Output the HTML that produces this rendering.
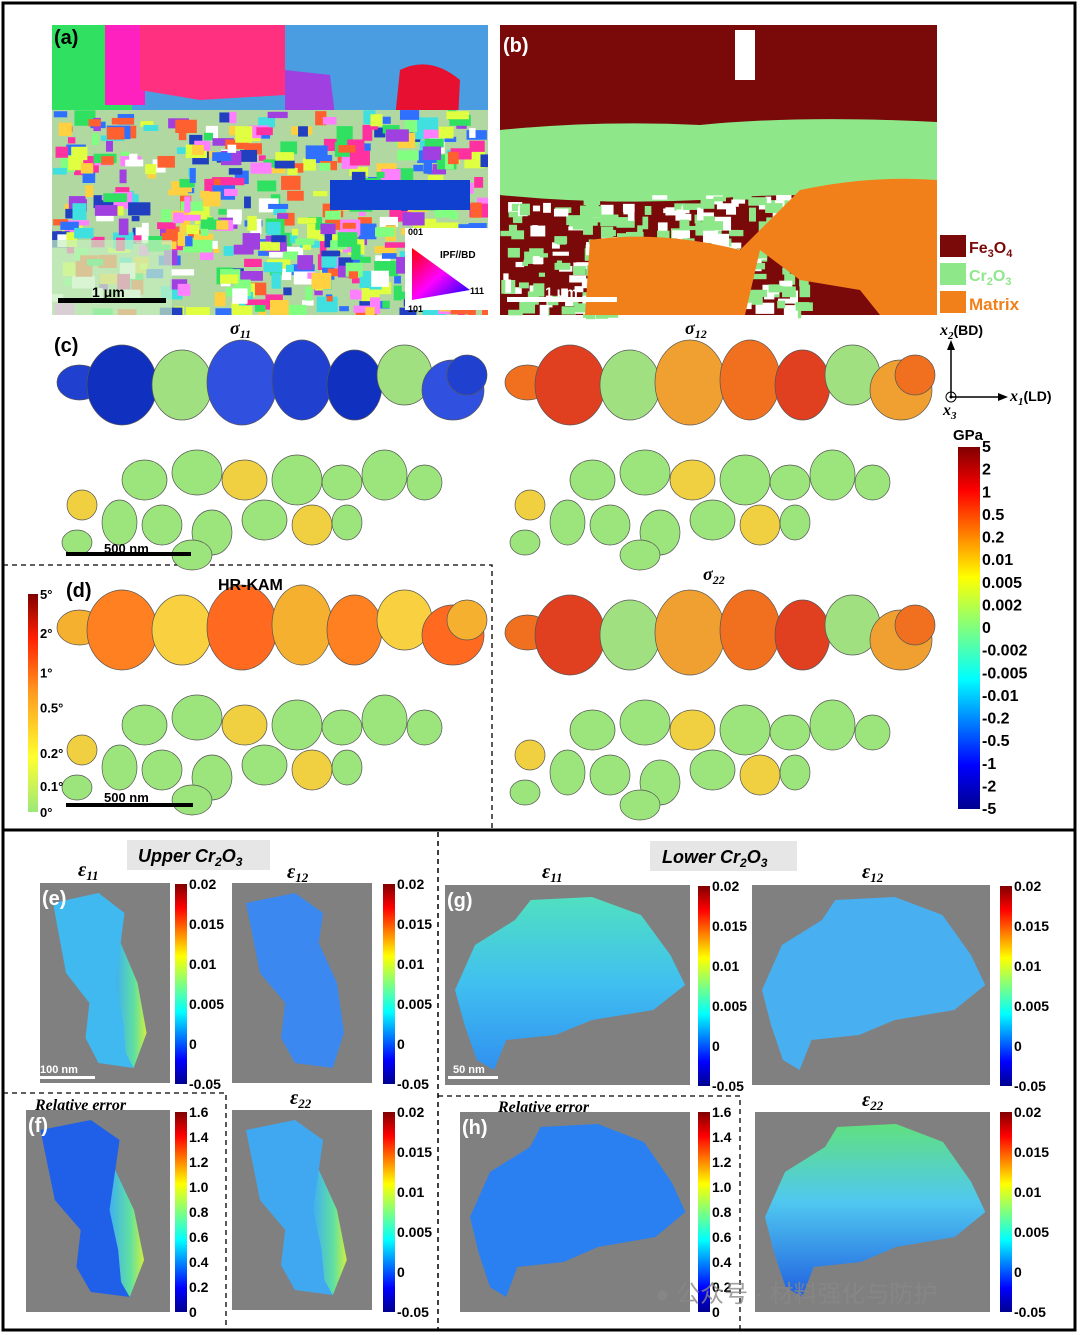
<!DOCTYPE html>
<html><head><meta charset="utf-8">
<style>
html,body{margin:0;padding:0;background:#fff;}
svg{display:block;font-family:"Liberation Sans","Noto Sans CJK SC",sans-serif;}
</style></head>
<body>
<svg id="fig" width="1080" height="1335" viewBox="0 0 1080 1335">
<defs>
<linearGradient id="jet" x1="0" y1="1" x2="0" y2="0">
<stop offset="0" stop-color="#00008f"/><stop offset="0.12" stop-color="#0000ff"/><stop offset="0.36" stop-color="#00ffff"/><stop offset="0.5" stop-color="#7fff7f"/><stop offset="0.64" stop-color="#ffff00"/><stop offset="0.88" stop-color="#ff0000"/><stop offset="1" stop-color="#800000"/>
</linearGradient>
<linearGradient id="kam" x1="0" y1="1" x2="0" y2="0">
<stop offset="0" stop-color="#9be87a"/><stop offset="0.25" stop-color="#ffff30"/><stop offset="0.55" stop-color="#ff9a20"/><stop offset="0.8" stop-color="#ff2000"/><stop offset="1" stop-color="#800000"/>
</linearGradient>
<linearGradient id="ipf" x1="0" y1="0" x2="1" y2="1">
<stop offset="0" stop-color="#ff0000"/><stop offset="0.5" stop-color="#ff00ff"/><stop offset="1" stop-color="#0000ff"/>
</linearGradient>
<linearGradient id="strip" x1="0" y1="0" x2="1" y2="0">
<stop offset="0" stop-color="#40b0f0"/><stop offset="0.6" stop-color="#60e0a0"/><stop offset="1" stop-color="#d0f040"/>
</linearGradient>
<linearGradient id="gfill" x1="0" y1="0" x2="0" y2="1">
<stop offset="0" stop-color="#50e0c0"/><stop offset="0.5" stop-color="#40c0f0"/><stop offset="1" stop-color="#3090f0"/>
</linearGradient>
<linearGradient id="h22fill" x1="0" y1="0" x2="0" y2="1">
<stop offset="0" stop-color="#60e080"/><stop offset="0.45" stop-color="#50c8f0"/><stop offset="1" stop-color="#2060e0"/>
</linearGradient>
<clipPath id="clipc1"><rect x="52" y="340" width="436" height="225"/></clipPath>
</defs>

<rect x="3" y="3" width="1072" height="1327" fill="none" stroke="#000" stroke-width="3"/>
<line x1="3" y1="830" x2="1075" y2="830" stroke="#000" stroke-width="3"/>
<line x1="438" y1="832" x2="438" y2="1330" stroke="#000" stroke-width="1.5" stroke-dasharray="5,4"/>
<path d="M3 565 H492 V830" fill="none" stroke="#000" stroke-width="1.3" stroke-dasharray="5,4"/>
<path d="M3 1093 H226 V1330" fill="none" stroke="#000" stroke-width="1.3" stroke-dasharray="5,4"/>
<path d="M438 1096 H740 V1330" fill="none" stroke="#000" stroke-width="1.3" stroke-dasharray="5,4"/>

<g>
<rect x="52" y="25" width="436" height="290" fill="#4a9de0"/>
<rect x="52" y="25" width="80" height="100" fill="#30e060"/>
<rect x="105" y="25" width="40" height="80" fill="#ff20c0"/>
<path d="M140 25 H285 V95 L200 100 L140 90Z" fill="#ff3080"/>
<path d="M285 70 L330 75 L335 115 L285 118Z" fill="#a040e0"/>
<path d="M400 70 Q430 55 460 80 L458 120 L395 118Z" fill="#e81030"/>
<rect x="52" y="110" width="436" height="205" fill="#b0d8a0"/>
<g id="amosaic"></g>
<rect x="330" y="180" width="140" height="30" fill="#1040d0"/>
<rect x="52" y="240" width="120" height="75" fill="#c8f0c0" opacity="0.7"/>
<rect x="405" y="228" width="83" height="82" fill="#fff"/>
<path d="M412 248 L412 300 L470 290Z" fill="url(#ipf)"/>
<text x="408" y="235" font-size="9" font-weight="bold">001</text>
<text x="440" y="258" font-size="10" font-weight="bold">IPF//BD</text>
<text x="470" y="294" font-size="9" font-weight="bold">111</text>
<text x="408" y="312" font-size="9" font-weight="bold">101</text>
<rect x="58" y="298" width="108" height="5" fill="#000"/>
<text x="92" y="297" font-size="14" font-weight="bold">1 μm</text>
<text x="54" y="44" font-size="20" font-weight="bold">(a)</text>
</g>

<g>
<rect x="500" y="25" width="437" height="290" fill="#7a0a0a"/>
<path d="M500 130 Q600 120 700 125 Q800 115 937 122 V200 Q800 190 700 200 Q600 205 500 195Z" fill="#8ee88a"/>
<g id="bmosaic"></g>
<path d="M585 315 L590 240 Q660 230 740 250 L800 190 Q870 175 937 180 V315 L880 315 L860 290 L800 280 L760 250 L745 315Z" fill="#f2801a"/>
<rect x="735" y="30" width="20" height="50" fill="#fff"/>
<rect x="507" y="297" width="110" height="5" fill="#fff"/>
<text x="545" y="297" font-size="14" font-weight="bold" fill="#fff">1 μm</text>
<text x="503" y="52" font-size="20" font-weight="bold" fill="#fff">(b)</text>
</g>
<g>
<rect x="940" y="235" width="26" height="22" fill="#7a0a0a"/><text x="969" y="253" font-size="16" font-weight="bold" fill="#7a0a0a">Fe<tspan font-size="11" dy="4">3</tspan><tspan dy="-4">O</tspan><tspan font-size="11" dy="4">4</tspan></text>
<rect x="940" y="263" width="26" height="22" fill="#8ee88a"/><text x="969" y="281" font-size="16" font-weight="bold" fill="#8ee88a">Cr<tspan font-size="11" dy="4">2</tspan><tspan dy="-4">O</tspan><tspan font-size="11" dy="4">3</tspan></text>
<rect x="940" y="291" width="26" height="22" fill="#f2801a"/><text x="969" y="310" font-size="17" font-weight="bold" fill="#f2801a">Matrix</text>
</g>

<g id="maps"></g>
<text x="230" y="334" font-size="18" font-style="italic" font-weight="bold" font-family="Liberation Serif">σ<tspan font-size="12" dy="4">11</tspan></text>
<text x="685" y="334" font-size="18" font-style="italic" font-weight="bold" font-family="Liberation Serif">σ<tspan font-size="12" dy="4">12</tspan></text>
<text x="703" y="580" font-size="18" font-style="italic" font-weight="bold" font-family="Liberation Serif">σ<tspan font-size="12" dy="4">22</tspan></text>
<text x="54" y="352" font-size="20" font-weight="bold">(c)</text>
<text x="66" y="597" font-size="20" font-weight="bold">(d)</text>
<text x="218" y="590" font-size="16" font-weight="bold">HR-KAM</text>
<rect x="66" y="552" width="125" height="4" fill="#000"/>
<text x="104" y="553" font-size="13" font-weight="bold">500 nm</text>
<rect x="66" y="803" width="127" height="4" fill="#000"/>
<text x="104" y="802" font-size="13" font-weight="bold">500 nm</text>

<g>
<line x1="951" y1="397" x2="951" y2="348" stroke="#000" stroke-width="1.5"/><path d="M947 350 L951 340 L955 350Z"/>
<line x1="951" y1="397" x2="1000" y2="397" stroke="#000" stroke-width="1.5"/><path d="M998 393 L1008 397 L998 401Z"/>
<circle cx="951" cy="397" r="5" fill="none" stroke="#000"/><circle cx="951" cy="397" r="1.5"/>
<text x="940" y="335" font-size="16" font-style="italic" font-family="Liberation Serif" font-weight="bold">x<tspan font-size="11" dy="4">2</tspan><tspan dy="-4" font-style="normal" font-family="Liberation Sans" font-size="14">(BD)</tspan></text>
<text x="1010" y="401" font-size="16" font-style="italic" font-family="Liberation Serif" font-weight="bold">x<tspan font-size="11" dy="4">1</tspan><tspan dy="-4" font-style="normal" font-family="Liberation Sans" font-size="14">(LD)</tspan></text>
<text x="943" y="415" font-size="16" font-style="italic" font-family="Liberation Serif" font-weight="bold">x<tspan font-size="11" dy="4">3</tspan></text>
</g>
<text x="953" y="440" font-size="15" font-weight="bold">GPa</text>

<rect x="127" y="840" width="143" height="30" fill="#e6e6e6"/>
<text x="138" y="862" font-size="18" font-weight="bold" font-style="italic">Upper Cr<tspan font-size="12" dy="4">2</tspan><tspan dy="-4">O</tspan><tspan font-size="12" dy="4">3</tspan></text>
<rect x="650" y="841" width="147" height="30" fill="#e6e6e6"/>
<text x="662" y="863" font-size="18" font-weight="bold" font-style="italic">Lower Cr<tspan font-size="12" dy="4">2</tspan><tspan dy="-4">O</tspan><tspan font-size="12" dy="4">3</tspan></text>
<g id="strainpanels"></g>
<g font-family="Liberation Serif" font-style="italic" font-weight="bold" font-size="20">
<text x="78" y="876">ε<tspan font-size="13" dy="4">11</tspan></text>
<text x="287" y="878">ε<tspan font-size="13" dy="4">12</tspan></text>
<text x="542" y="878">ε<tspan font-size="13" dy="4">11</tspan></text>
<text x="862" y="878">ε<tspan font-size="13" dy="4">12</tspan></text>
<text x="290" y="1104">ε<tspan font-size="13" dy="4">22</tspan></text>
<text x="862" y="1106">ε<tspan font-size="13" dy="4">22</tspan></text>
</g>
<text x="35" y="1110" font-size="16" font-family="Liberation Serif" font-style="italic" font-weight="bold">Relative error</text>
<text x="498" y="1112" font-size="16" font-family="Liberation Serif" font-style="italic" font-weight="bold">Relative error</text>
<g id="cbars"></g>
<text x="655" y="1302" font-size="24" fill="#888" opacity="0.8">● 公众号 · 材料强化与防护</text>
</svg>
<script>
// colorbar tick labels
const stressTicks = ["5","2","1","0.5","0.2","0.01","0.005","0.002","0","-0.002","-0.005","-0.01","-0.2","-0.5","-1","-2","-5"];
const kamTicks = ["5°","2°","1°","0.5°","0.2°","0.1°","0°"];
const kamPos = [0,0.18,0.36,0.52,0.73,0.88,1];
const strainTicks = ["0.02","0.015","0.01","0.005","0","-0.05"];
const strainPos = [0,0.2,0.4,0.6,0.8,1];
const errTicks = ["1.6","1.4","1.2","1.0","0.8","0.6","0.4","0.2","0"];

const NS="http://www.w3.org/2000/svg";
function mk(tag,attrs,parent){const e=document.createElementNS(NS,tag);for(const k in attrs)e.setAttribute(k,attrs[k]);parent.appendChild(e);return e;}

let seed=7;function rnd(){seed=(seed*16807)%2147483647;return seed/2147483647;}
const pal=["#30e060","#ff30a0","#3070ff","#ffd040","#a040e0","#40e0e0","#ff6030","#80ff80","#ffffff","#2040c0","#e0ff40","#ff80ff"];
const am=document.getElementById('amosaic');
for(let i=0;i<520;i++){const x=52+rnd()*430,y=110+rnd()*200,w=6+rnd()*18,h=5+rnd()*12;
 mk('rect',{x:x,y:y,width:Math.min(w,488-x),height:Math.min(h,315-y),fill:pal[Math.floor(rnd()*pal.length)]},am);}
const bm=document.getElementById('bmosaic');
for(let i=0;i<300;i++){const x=500+rnd()*300,y=195+rnd()*115,w=5+rnd()*14,h=4+rnd()*10;
 mk('rect',{x:x,y:y,width:w,height:h,fill:rnd()<0.6?"#8ee88a":"#ffffff"},bm);}

function grains(g,ox,oy,mode){
 const band=[[5,25,45,35],[35,5,70,80],[100,10,60,70],[155,0,70,85],[220,0,60,80],[275,10,55,70],[325,5,55,60],[370,20,62,60],[395,15,40,40]];
 const low=[[70,120,45,40],[120,110,50,45],[170,120,45,40],[220,115,50,50],[270,125,40,35],[310,110,45,50],[355,125,35,35],[15,150,30,30],[50,160,35,45],[90,165,40,40],[140,170,40,45],[190,160,45,40],[240,165,40,40],[280,165,30,35],[120,200,40,30],[10,190,30,25]];
 const fills=mode==="kam"?["#f5b030","#ff8020","#f8d040","#ff6a20"]:mode==="s11"?["#2040d0","#1030c0","#a0e080","#3050e0"]:["#f07020","#e04020","#a0e080","#f0a030"];
 band.forEach((b,i)=>{mk('ellipse',{cx:ox+b[0]+b[2]/2,cy:oy+b[1]+b[3]/2,rx:b[2]/2,ry:b[3]/2,fill:fills[i%4],stroke:"#555","stroke-width":0.7},g);});
 low.forEach((b,i)=>{mk('ellipse',{cx:ox+b[0]+b[2]/2,cy:oy+b[1]+b[3]/2,rx:b[2]/2,ry:b[3]/2,fill:i%5===2?"#f0d040":"#9ce47c",stroke:"#555","stroke-width":0.7},g);});
}
const maps=document.getElementById('maps');
[[52,340,"s11","sigma11-map"],[500,340,"s12","sigma12-map"],[52,585,"kam","hr-kam-map"],[500,590,"s12","sigma22-map"]].forEach(m=>{
 const g=mk('g',{},maps);
 
 
 grains(g,m[0],m[1],m[2]);
});

const sp=document.getElementById('strainpanels');
const panels=[[40,883,130,200,"e11","#40b8f0","(e)",1],[232,883,140,200,"e12","#3a88f0","",0],[26,1110,144,202,"f-error","#2060e8","(f)",1],[232,1110,140,200,"e22","#40a8f0","",1],
 [445,885,245,200,"g11","url(#gfill)","(g)",0],[752,885,238,200,"g12","#48b0f0","",0],[460,1112,230,200,"h-error","#2a80f0","(h)",0],[755,1112,235,200,"h22","url(#h22fill)","",0]];
panels.forEach(p=>{
 const g=mk('g',{},sp);
 
 
 mk('rect',{x:p[0],y:p[1],width:p[2],height:p[3],fill:"#808080"},g);
 const x=p[0],y=p[1],w=p[2],h=p[3];
 if(w<160){
  mk('path',{d:`M${x+w*0.1} ${y+20} L${x+w*0.45} ${y+10} L${x+w*0.65} ${y+30} L${x+w*0.62} ${y+60} L${x+w*0.75} ${y+100} L${x+w*0.8} ${y+150} L${x+w*0.72} ${y+h-15} L${x+w*0.45} ${y+h-20} L${x+w*0.35} ${y+h-45} L${x+w*0.38} ${y+120} L${x+w*0.2} ${y+90} L${x+w*0.15} ${y+55} Z`,fill:p[5]},g);
  if(p[7]) mk('path',{d:`M${x+w*0.62} ${y+60} L${x+w*0.75} ${y+100} L${x+w*0.82} ${y+150} L${x+w*0.72} ${y+h-15} L${x+w*0.66} ${y+h-30} L${x+w*0.64} ${y+140} L${x+w*0.58} ${y+100} Z`,fill:"url(#strip)"},g);
 } else {
  mk('path',{d:`M${x+10} ${y+105} L${x+30} ${y+60} L${x+70} ${y+35} L${x+w*0.35} ${y+15} L${x+w*0.6} ${y+12} L${x+w*0.8} ${y+30} L${x+w*0.92} ${y+70} L${x+w*0.98} ${y+100} L${x+w*0.85} ${y+125} L${x+w*0.6} ${y+135} L${x+w*0.45} ${y+150} L${x+w*0.25} ${y+155} L${x+w*0.2} ${y+185} L${x+w*0.13} ${y+175} L${x+w*0.08} ${y+140} Z`,fill:p[5]},g);
 }
 if(p[6]) mk('text',{x:x+2,y:y+22,"font-size":20,"font-weight":"bold",fill:"#fff"},g).textContent=p[6];
});

const cb=document.getElementById('cbars');
function colorbar(name,x,y,w,h,grad,ticks,pos,fs){
 const g=mk('g',{},cb);
 
 
 mk('rect',{x:x,y:y,width:w,height:h,fill:`url(#${grad})`},g);
 ticks.forEach((t,i)=>{const p=pos?pos[i]:i/(ticks.length-1);
  const tx=mk('text',{x:x+w+2,y:y+p*h+5,"font-size":fs,"font-weight":"bold"},g);tx.textContent=t;});
}
colorbar('stress-colorbar',958,447,22,362,'jet',stressTicks,null,16);
colorbar('kam-colorbar',28,594,10,218,'kam',kamTicks,kamPos,13);
colorbar('e11-colorbar',175,884,12,200,'jet',strainTicks,strainPos,14);
colorbar('e12-colorbar',383,884,12,200,'jet',strainTicks,strainPos,14);
colorbar('g11-colorbar',698,886,12,200,'jet',strainTicks,strainPos,14);
colorbar('g12-colorbar',1000,886,12,200,'jet',strainTicks,strainPos,14);
colorbar('f-error-colorbar',175,1112,12,200,'jet',errTicks,null,14);
colorbar('e22-colorbar',383,1112,12,200,'jet',strainTicks,strainPos,14);
colorbar('h-error-colorbar',698,1112,12,200,'jet',errTicks,null,14);
colorbar('h22-colorbar',1000,1112,12,200,'jet',strainTicks,strainPos,14);

const s1=mk('rect',{x:40,y:1076,width:55,height:3,fill:"#fff"},cb);


const t1=mk('text',{x:40,y:1073,"font-size":11,"font-weight":"bold",fill:"#fff"},cb);t1.textContent="100 nm";
const s2=mk('rect',{x:448,y:1076,width:50,height:3,fill:"#fff"},cb);


const t2=mk('text',{x:453,y:1073,"font-size":11,"font-weight":"bold",fill:"#fff"},cb);t2.textContent="50 nm";
</script>
</body></html>
